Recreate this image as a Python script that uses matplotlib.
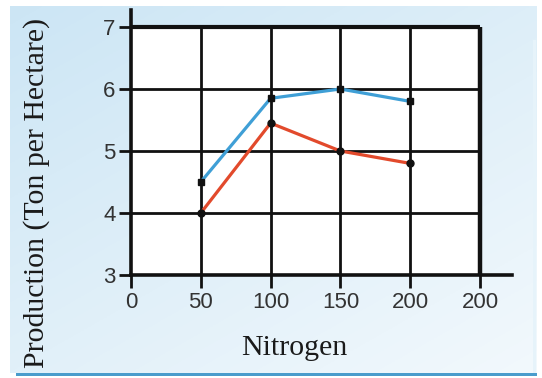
import numpy as np
import matplotlib
matplotlib.use("Agg")
import matplotlib.pyplot as plt
from matplotlib.patches import Rectangle

# Data
nitrogen = [50, 100, 150, 200]
series_blue = [4.5, 5.85, 6.0, 5.8]
series_red = [4.0, 5.45, 5.0, 4.8]
x_ticks = [0, 50, 100, 150, 200, 250]
x_tick_labels = ["0", "50", "100", "150", "200", "200"]
y_ticks = [3, 4, 5, 6, 7]
x_label = "Nitrogen"
y_label = "Production (Ton per Hectare)"

W, H = 542, 378
fig = plt.figure(figsize=(W / 100, H / 100), dpi=100)
fig.patch.set_facecolor("white")

# background gradient panel
bg = fig.add_axes([10 / W, 1 - 373 / H, (537 - 10) / W, (373 - 6) / H])
bg.set_axis_off()
yy, xx = np.mgrid[0:1:200j, 0:1:200j]
t = np.clip(0.55 * yy + 0.45 * xx, 0, 1)
c0 = np.array([0.80, 0.90, 0.96])
c1 = np.array([0.95, 0.975, 0.99])
img = c0[None, None, :] * (1 - t[..., None]) + c1[None, None, :] * t[..., None]
bg.imshow(img, aspect="auto", extent=[0, 1, 0, 1], origin="upper")
bg.set_xlim(0, 1)
bg.set_ylim(0, 1)
# bottom blue line and right light line
fig.add_artist(Rectangle((16 / W, 1 - 376 / H), (537 - 16) / W, 3 / H,
                         transform=fig.transFigure, color="#4a9ccc", lw=0))
fig.add_artist(Rectangle((533 / W, 1 - 373 / H), 3 / W, (373 - 40) / H,
                         transform=fig.transFigure, color="#e6f3fa", lw=0))

# main axes: x 0 at px 131, 250 at px 480 ; y 3 at py 275, 7 at py 27
px_per_x = (480 - 131) / 250
px_per_y = (275 - 27) / 4
xmax = 0 + (512 - 131) / px_per_x
ymax = 3 + (275 - 10) / px_per_y
left = 131 / W
bottom = 1 - 275 / H
width = (512 - 131) / W
height = (275 - 10) / H
ax = fig.add_axes([left, bottom, width, height])
ax.set_facecolor("none")
ax.set_xlim(0, xmax)
ax.set_ylim(3, ymax)

ax.add_patch(Rectangle((0, 3), 250, 4, facecolor="white", edgecolor="none", zorder=0))
ax.vlines(x_ticks[1:-1], 3, 7, color="#111111", lw=2.0, zorder=1)
ax.hlines(y_ticks[1:-1], 0, 250, color="#111111", lw=2.0, zorder=1)
ax.vlines([x_ticks[-1]], 3, 7, color="#111111", lw=3.2, zorder=1)
ax.hlines([y_ticks[-1]], 0, 250, color="#111111", lw=3.0, zorder=1)

ax.plot(nitrogen, series_blue, color="#3f9fd6", lw=2.3, zorder=3,
        marker="s", markersize=5, markerfacecolor="#111111", markeredgecolor="#111111")
ax.plot(nitrogen, series_red, color="#e24a2c", lw=2.3, zorder=3,
        marker="o", markersize=5, markerfacecolor="#111111", markeredgecolor="#111111")

for s in ["top", "right"]:
    ax.spines[s].set_visible(False)
for s in ["left", "bottom"]:
    ax.spines[s].set_linewidth(2.6)
    ax.spines[s].set_color("#111111")

ax.set_xticks(x_ticks)
ax.set_xticklabels(x_tick_labels)
ax.set_yticks(y_ticks)
ax.tick_params(axis="both", direction="out", length=9, width=2.0, color="#111111",
               labelsize=16, labelcolor="#333333")
ax.tick_params(axis="x", pad=3)
ax.tick_params(axis="y", pad=2)
for lab in ax.get_xticklabels() + ax.get_yticklabels():
    lab.set_family("Liberation Sans")

fig.text(294 / W, 1 - 348 / H, x_label, ha="center", va="center",
         family="Liberation Serif", fontsize=21.5, color="#1a1a1a")
fig.text(37 / W, 1 - 193 / H, y_label, ha="center", va="center", rotation=90,
         family="Liberation Serif", fontsize=21.5, color="#1a1a1a")

fig.savefig("out.png", dpi=100)
